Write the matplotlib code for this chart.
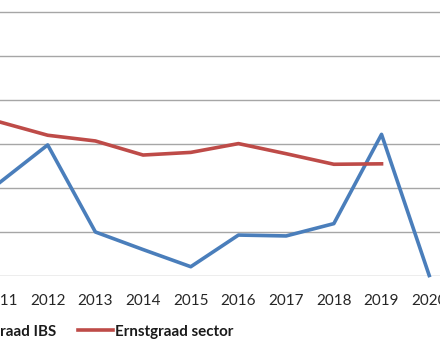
import matplotlib
matplotlib.use("Agg")
import matplotlib.pyplot as plt

years = [2011, 2012, 2013, 2014, 2015, 2016, 2017, 2018, 2019, 2020]
ibs = [2.12, 2.97, 0.99, 0.59, 0.20, 0.92, 0.90, 1.18, 3.21, 0.0]
sector_years = [2011, 2012, 2013, 2014, 2015, 2016, 2017, 2018, 2019]
sector = [3.49, 3.19, 3.06, 2.74, 2.80, 3.00, 2.77, 2.53, 2.54]
tick_labels = [str(y) for y in years]

blue = "#4a7ebb"
red = "#be4b48"

plt.rcParams['font.family'] = ['Lato', 'DejaVu Sans']

fig = plt.figure(figsize=(4.4, 3.52), dpi=100)
ax = fig.add_axes([0, 0.2173, 1, 0.7827])

ax.plot(years, ibs, color=blue, lw=2.6, label="Ernstgraad IBS", clip_on=False, zorder=3)
ax.plot(sector_years, sector, color=red, lw=2.6, label="Ernstgraad sector", zorder=3)

# x: px 0 -> 2011.116, px 440 -> 2020.226
ax.set_xlim(2011.116, 2020.226)
ax.set_ylim(0, 6.266)
ax.set_yticks(range(0, 7))
ax.yaxis.grid(True, color="#a6a6a6", lw=1)
ax.set_axisbelow(True)
ax.set_xticks(years)
ax.set_xticklabels(tick_labels, fontsize=11, color="#262626")
ax.tick_params(axis="x", length=0, pad=13.5)
ax.tick_params(axis="y", length=0, labelleft=False)
for s in ax.spines.values():
    s.set_visible(False)

leg = fig.legend(loc="center left", bbox_to_anchor=(-0.2, 0.0575), ncol=2,
                 frameon=False, handlelength=2.3, handletextpad=0.14,
                 columnspacing=1.5, borderpad=0,
                 prop={"size": 10.9, "weight": "bold"})
for t in leg.get_texts():
    t.set_color("#1a1a1a")

fig.savefig("out.png", dpi=100)
